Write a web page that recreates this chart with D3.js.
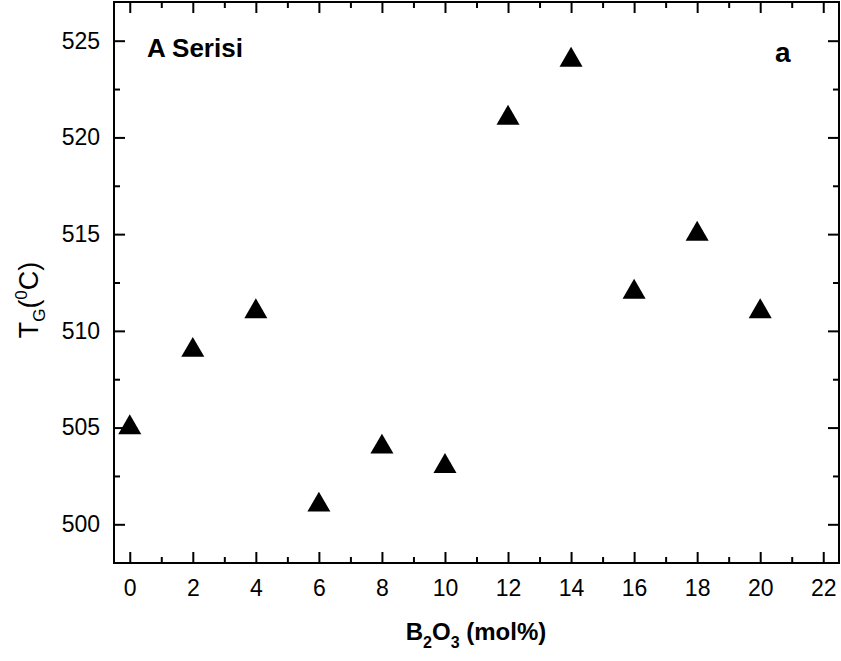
<!DOCTYPE html>
<html lang="en">
<head>
    <meta charset="UTF-8">
    <title>A Serisi</title>
    <script src="https://d3js.org/d3.v7.min.js"></script>
    <style>
        body { margin: 0; background: #fff; }
        text { font-family: "Liberation Sans", Arial, sans-serif; }
    </style>
</head>
<body>
    <div id="graph"></div>
    <script>
        // B2O3 content (mol%) and glass transition temperature
        const b2o3 = [0, 2, 4, 6, 8, 10, 12, 14, 16, 18, 20];
        const tg = [505, 509, 511, 501, 504, 503, 521, 524, 512, 515, 511];
        const xTicks = [0, 2, 4, 6, 8, 10, 12, 14, 16, 18, 20, 22];
        const yTicks = [500, 505, 510, 515, 520, 525];
        const xMinor = [1, 3, 5, 7, 9, 11, 13, 15, 17, 19, 21];
        const yMinor = [502.5, 507.5, 512.5, 517.5, 522.5];

        const width = 841, height = 661;
        const margin = { top: 2, right: 2, bottom: 98, left: 114 };
        const w = width - margin.left - margin.right;
        const h = height - margin.top - margin.bottom;

        const svg = d3.select("#graph").append("svg")
            .attr("width", width)
            .attr("height", height);

        const g = svg.append("g")
            .attr("transform", `translate(${margin.left},${margin.top})`);

        const x = d3.scaleLinear().domain([-0.5, 22.5]).range([0, w]);
        const y = d3.scaleLinear().domain([498, 527]).range([h, 0]);

        const tickStyle = sel => {
            sel.select(".domain").remove();
            sel.selectAll("line").attr("stroke", "#000").attr("stroke-width", 2);
            sel.selectAll("text").attr("font-size", 23).attr("fill", "#000");
        };

        // bottom axis (ticks inside)
        g.append("g").attr("transform", `translate(0,${h})`)
            .call(d3.axisBottom(x).tickValues(xTicks).tickSizeInner(-11).tickPadding(17))
            .call(tickStyle);
        g.append("g").attr("transform", `translate(0,${h})`)
            .call(d3.axisBottom(x).tickValues(xMinor).tickSizeInner(-6).tickFormat(""))
            .call(tickStyle);
        // top axis
        g.append("g")
            .call(d3.axisTop(x).tickValues(xTicks).tickSizeInner(-11).tickFormat(""))
            .call(tickStyle);
        g.append("g")
            .call(d3.axisTop(x).tickValues(xMinor).tickSizeInner(-6).tickFormat(""))
            .call(tickStyle);
        // left axis
        g.append("g")
            .call(d3.axisLeft(y).tickValues(yTicks).tickSizeInner(-11).tickPadding(14))
            .call(tickStyle);
        g.append("g")
            .call(d3.axisLeft(y).tickValues(yMinor).tickSizeInner(-6).tickFormat(""))
            .call(tickStyle);
        // right axis
        g.append("g").attr("transform", `translate(${w},0)`)
            .call(d3.axisRight(y).tickValues(yTicks).tickSizeInner(-11).tickFormat(""))
            .call(tickStyle);
        g.append("g").attr("transform", `translate(${w},0)`)
            .call(d3.axisRight(y).tickValues(yMinor).tickSizeInner(-6).tickFormat(""))
            .call(tickStyle);

        // frame
        g.append("rect")
            .attr("width", w).attr("height", h)
            .attr("fill", "none").attr("stroke", "#000").attr("stroke-width", 2);

        // data points
        const tri = d3.symbol().type(d3.symbolTriangle).size(230);
        g.selectAll(".pt")
            .data(b2o3.map((v, i) => [v, tg[i]]))
            .join("path")
            .attr("class", "pt")
            .attr("d", tri)
            .attr("transform", d => `translate(${x(d[0])},${y(d[1])})`)
            .attr("fill", "#000");

        // annotations
        g.append("text").attr("x", 33).attr("y", 55)
            .attr("font-size", 26).attr("font-weight", "bold").text("A Serisi");
        g.append("text").attr("x", 661).attr("y", 60)
            .attr("font-size", 28).attr("font-weight", "bold").text("a");

        // x axis title
        const xt = svg.append("text")
            .attr("x", 476).attr("y", 640)
            .attr("text-anchor", "middle")
            .attr("font-size", 24).attr("font-weight", "bold");
        xt.append("tspan").text("B");
        xt.append("tspan").attr("font-size", 16).attr("dy", 8).text("2");
        xt.append("tspan").attr("dy", -8).text("O");
        xt.append("tspan").attr("font-size", 16).attr("dy", 8).text("3");
        xt.append("tspan").attr("dy", -8).text(" (mol%)");

        // y axis title
        const yt = svg.append("text")
            .attr("transform", "translate(38,300) rotate(-90)")
            .attr("text-anchor", "middle")
            .attr("font-size", 27);
        yt.append("tspan").text("T");
        yt.append("tspan").attr("font-size", 17).attr("dy", 7).text("G");
        yt.append("tspan").attr("dy", -7).text("(");
        yt.append("tspan").attr("font-size", 17).attr("dy", -11).text("0");
        yt.append("tspan").attr("dy", 11).text("C)");
    </script>
</body>
</html>
